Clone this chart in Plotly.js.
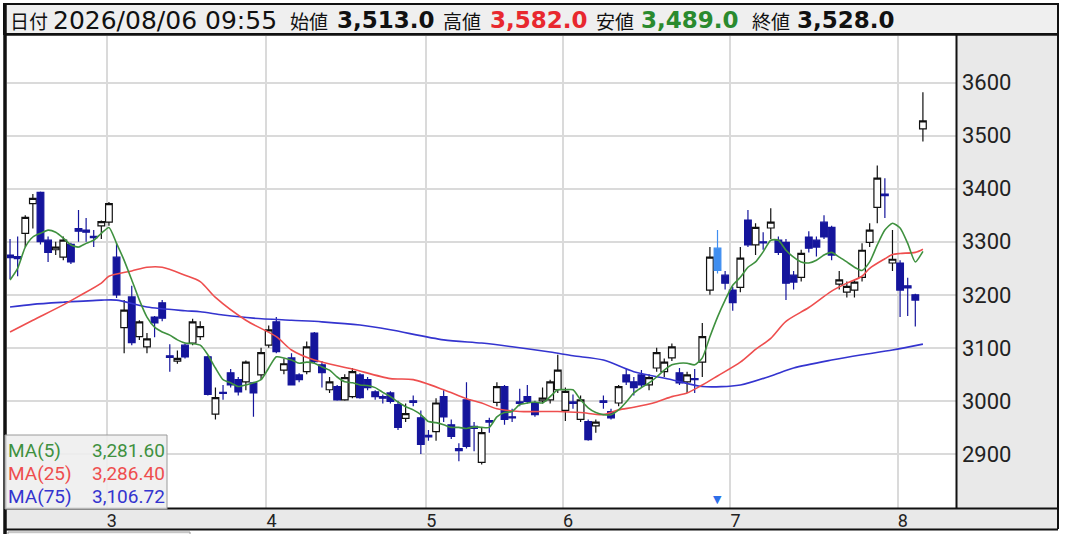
<!DOCTYPE html>
<html>
<head>
<meta charset="utf-8">
<script src="https://cdn.plot.ly/plotly-3.0.1.min.js"></script>
<style>
  html, body { margin: 0; padding: 0; background: #ffffff; }
  #chart { width: 1066px; height: 534px; }
</style>
</head>
<body>
<div id="chart"></div>
<script>
// ---------------- data ----------------
const headerDate = '2026/08/06 09:55';
const dayLabels = ['3', '4', '5', '6', '7', '8'];
const dayFirstIndex = [13, 34, 55, 73, 95, 117];
const priceTicks = [2900, 3000, 3100, 3200, 3300, 3400, 3500, 3600];
const highlightIndex = 93;

const candleOpen = [
  3275,3272,3316,3372,3393,3303,3285,3271,3295,3325,
  3322,3310,3330,3337,3271,3138,3196,3121,3102,3158,
  3185,3085,3075,3105,3109,3121,3083,2975,3016,3053,
  3040,3036,3034,3049,3105,3149,3058,3081,3049,3055,
  3128,3068,3021,3027,3002,3008,3049,3040,3017,3008,
  3015,2993,2967,3000,2968,2935,2942,3008,2955,2910,
  3002,2952,2884,2963,2997,3027,2970,2998,3008,2996,
  3000,3002,3021,2982,2998,2965,2961,2953,3000,2980,
  2996,3049,3036,3049,3030,3062,3055,3081,3053,3036,
  3042,3073,3209,3288,3237,3209,3214,3341,3294,3300,
  3326,3303,3299,3237,3233,3309,3303,3337,3327,3220,
  3205,3209,3233,3299,3365,3390,3260,3260,3217,3200,3513
];
const candleHigh = [
  3305,3310,3350,3390,3395,3310,3300,3310,3298,3360,
  3345,3322,3340,3375,3297,3190,3217,3152,3128,3160,
  3190,3107,3095,3108,3155,3150,3085,3025,3030,3060,
  3045,3076,3036,3100,3142,3158,3080,3090,3052,3112,
  3130,3075,3045,3030,3050,3062,3052,3045,3020,3012,
  3018,3000,2995,3010,2982,2945,3005,3020,2965,2920,
  3035,2960,2950,2968,3035,3030,2985,3023,3030,3000,
  3025,3040,3087,3025,3012,3010,2965,2965,3010,2985,
  3030,3060,3045,3058,3050,3100,3080,3108,3062,3055,
  3060,3147,3290,3322,3245,3215,3290,3360,3335,3318,
  3363,3310,3305,3245,3285,3320,3310,3350,3330,3245,
  3225,3228,3297,3335,3444,3420,3322,3265,3232,3202,3582
];
const candleLow = [
  3230,3235,3290,3325,3295,3262,3275,3265,3258,3300,
  3300,3290,3305,3330,3194,3090,3105,3115,3090,3120,
  3150,3055,3070,3080,3105,3115,3010,2965,3002,3025,
  3010,3020,2970,3040,3100,3090,3050,3030,3035,3050,
  3070,3025,3015,3000,3000,3005,3004,3020,3002,2995,
  2995,2945,2960,2990,2900,2925,2925,2960,2928,2886,
  2910,2905,2880,2940,2990,2955,2960,2990,2995,2970,
  2995,2995,3015,2962,2985,2960,2925,2940,2985,2965,
  2990,3030,3010,3025,3020,3055,3045,3075,3030,3015,
  3015,3045,3200,3240,3210,3170,3205,3290,3275,3285,
  3305,3275,3190,3210,3225,3280,3272,3305,3265,3210,
  3195,3195,3225,3290,3335,3345,3245,3158,3160,3140,3489
];
const candleClose = [
  3270,3268,3346,3382,3300,3280,3290,3303,3262,3320,
  3318,3308,3338,3372,3200,3171,3110,3149,3117,3147,
  3156,3082,3080,3083,3149,3140,3012,3006,3014,3030,
  3017,3073,3015,3091,3134,3093,3070,3030,3040,3102,
  3074,3053,3036,3002,3044,3055,3006,3025,3008,3005,
  2999,2950,2976,2997,2918,2932,2996,2970,2933,2906,
  2914,2948,2940,2960,3027,2965,2968,2995,2999,2974,
  3005,3036,3058,3018,2995,3002,2927,2960,2997,2968,
  3027,3036,3025,3030,3044,3091,3073,3102,3034,3049,
  3040,3121,3271,3246,3222,3185,3269,3294,3327,3298,
  3337,3280,3222,3224,3278,3288,3290,3309,3275,3228,
  3216,3224,3284,3322,3420,3387,3267,3209,3213,3190,3528
];

// moving averages
const ma5Values = [
  3228,3250,3290,3309,3316,3322,3318,3307,3294,3290,
  3297,3303,3316,3327,3297,3265,3228,3190,3158,3139,
  3130,3124,3115,3109,3108,3105,3087,3062,3040,3034,
  3027,3030,3034,3040,3062,3083,3081,3077,3071,3073,
  3071,3064,3058,3045,3036,3034,3030,3029,3025,3016,
  3008,2998,2989,2983,2974,2961,2959,2955,2950,2950,
  2948,2951,2950,2950,2970,2978,2980,2993,2996,2998,
  2996,3008,3021,3021,3021,3002,2987,2978,2974,2974,
  2983,2998,3015,3025,3034,3045,3058,3068,3071,3071,
  3068,3081,3121,3158,3190,3218,3233,3252,3262,3281,
  3303,3303,3284,3271,3262,3260,3265,3275,3280,3271,
  3262,3252,3246,3262,3294,3322,3335,3326,3297,3262,3282
];
const ma25Index = [0,3,7,9,12,13,16,18,20,23,25,27,31,35,37,40,45,50,53,57,60,62,64,67,72,75,78,80,82,85,87,89,91,93,96,98,100,102,105,108,110,112,113,115,116,117,119,120];
const ma25Values = [3130,3152,3181,3197,3222,3235,3245,3252,3252,3237,3225,3195,3152,3121,3096,3077,3060,3042,3040,3021,3004,2996,2985,2980,2980,2978,2974,2983,2988,2998,3008,3015,3030,3047,3073,3097,3118,3150,3176,3207,3222,3235,3250,3268,3276,3278,3280,3286];
const ma75Index = [0,3,7,12,14,18,23,25,28,32,37,41,46,50,57,62,66,71,74,78,82,87,91,96,100,103,108,112,116,120];
const ma75Values = [3177,3182,3186,3190,3190,3177,3170,3168,3162,3156,3152,3149,3143,3134,3115,3109,3102,3092,3085,3077,3055,3040,3027,3030,3047,3062,3077,3087,3096,3107];

const maNames = ['MA(5)', 'MA(25)', 'MA(75)'];
const maLatest = [3281.60, 3286.40, 3106.72];

// ---------------- layout helpers ----------------
const W = 1066, H = 534;
const M = { l: 7, r: 110, t: 36, b: 26 };
const PW = W - M.l - M.r, PH = H - M.t - M.b;
const px = v => (v - M.l) / PW;
const py = v => (H - M.b - v) / PH;

const fmt = (v, d) => v.toLocaleString('en-US', { minimumFractionDigits: d, maximumFractionDigits: d });

const idx = candleClose.map((_, i) => i);
const mainIdx = idx.filter(i => i !== highlightIndex);
const pick = (arr, ids) => ids.map(i => arr[i]);

const navy = '#15159c';
const maColors = ['#3f913f', '#ee4e4e', '#3434cf'];

const traces = [
  {
    type: 'candlestick',
    x: mainIdx,
    open: pick(candleOpen, mainIdx),
    high: pick(candleHigh, mainIdx),
    low: pick(candleLow, mainIdx),
    close: pick(candleClose, mainIdx),
    increasing: { line: { color: '#111111', width: 1.2 }, fillcolor: '#ffffff' },
    decreasing: { line: { color: navy, width: 1.2 }, fillcolor: navy },
    whiskerwidth: 0,
    hoverinfo: 'skip'
  },
  {
    type: 'candlestick',
    x: [highlightIndex],
    open: [candleOpen[highlightIndex]],
    high: [candleHigh[highlightIndex]],
    low: [candleLow[highlightIndex]],
    close: [candleClose[highlightIndex]],
    increasing: { line: { color: '#3f8ef0', width: 1.2 }, fillcolor: '#3f8ef0' },
    decreasing: { line: { color: '#3f8ef0', width: 1.2 }, fillcolor: '#3f8ef0' },
    whiskerwidth: 0,
    hoverinfo: 'skip'
  },
  {
    type: 'scatter', mode: 'lines', x: ma75Index, y: ma75Values,
    line: { color: maColors[2], width: 1.6, shape: 'spline', smoothing: 0.8 }, hoverinfo: 'skip'
  },
  {
    type: 'scatter', mode: 'lines', x: ma25Index, y: ma25Values,
    line: { color: maColors[1], width: 1.6, shape: 'spline', smoothing: 0.8 }, hoverinfo: 'skip'
  },
  {
    type: 'scatter', mode: 'lines', x: idx, y: ma5Values,
    line: { color: maColors[0], width: 1.6, shape: 'spline', smoothing: 0.6 }, hoverinfo: 'skip'
  }
];

// ---------------- shapes ----------------
const rect = (x0, y0, x1, y1, fill, lineColor, lw, layer) => ({
  type: 'rect', xref: 'paper', yref: 'paper',
  x0: px(x0), x1: px(x1), y0: py(y1), y1: py(y0),
  fillcolor: fill, line: { color: lineColor, width: lw }, layer: layer || 'below'
});
const hline = (x0, x1, y, color, lw) => ({
  type: 'line', xref: 'paper', yref: 'paper',
  x0: px(x0), x1: px(x1), y0: py(y), y1: py(y),
  line: { color: color, width: lw }, layer: 'above'
});
const vline = (x, y0, y1, color, lw) => ({
  type: 'line', xref: 'paper', yref: 'paper',
  x0: px(x), x1: px(x), y0: py(y0), y1: py(y1),
  line: { color: color, width: lw }, layer: 'above'
});

const shapes = [
  rect(4, 4, 1058, 34, '#efefef', '#111', 2),
  rect(956, 35, 1058, 508, '#e9e9e9', 'rgba(0,0,0,0)', 0),
  rect(5, 508, 1058, 529, '#e9e9e9', 'rgba(0,0,0,0)', 0),
  rect(8, 532, 190, 545, '#f3f3f3', '#9a9a9a', 1),
  hline(4, 1058, 4, '#111', 2),
  hline(4, 1058, 34.5, '#111', 2.5),
  hline(5, 1058, 508.5, '#111', 2),
  hline(5, 1058, 529.5, '#111', 2),
  vline(5, 4, 540, '#111', 3.5),
  vline(956.5, 35, 508, '#111', 2),
  vline(1058, 4, 529, '#111', 2),
  rect(5, 435, 167, 509, 'rgba(238,238,238,0.88)', '#9a9a9a', 1, 'above')
];

// ---------------- annotations ----------------
const last = candleClose.length - 1;
const labelFont = { family: 'Noto Sans CJK JP', size: 19, color: '#111' };
const headerParts = [
  { t: '日付', x: 9, f: labelFont },
  { t: headerDate, x: 52, f: { family: 'DejaVu Sans', size: 25, color: '#111' } },
  { t: '始値', x: 289, f: labelFont },
  { t: '<b>' + fmt(candleOpen[last], 1) + '</b>', x: 336, f: { family: 'DejaVu Sans', size: 23, color: '#111' } },
  { t: '高値', x: 442, f: labelFont },
  { t: '<b>' + fmt(candleHigh[last], 1) + '</b>', x: 489, f: { family: 'DejaVu Sans', size: 23, color: '#e8282e' } },
  { t: '安値', x: 595, f: labelFont },
  { t: '<b>' + fmt(candleLow[last], 1) + '</b>', x: 640, f: { family: 'DejaVu Sans', size: 23, color: '#2a8a2e' } },
  { t: '終値', x: 751, f: labelFont },
  { t: '<b>' + fmt(candleClose[last], 1) + '</b>', x: 796, f: { family: 'DejaVu Sans', size: 23, color: '#111' } }
];
const annotations = headerParts.map(p => ({
  xref: 'paper', yref: 'paper', x: px(p.x), y: py(20),
  xanchor: 'left', yanchor: 'middle', text: p.t, showarrow: false, font: p.f,
  borderpad: 0
}));

const rowY = [450, 473, 496];
maNames.forEach((n, i) => {
  annotations.push({
    xref: 'paper', yref: 'paper', x: px(7), y: py(rowY[i]), xanchor: 'left', yanchor: 'middle',
    text: n, showarrow: false, borderpad: 0,
    font: { family: 'Roboto', size: 19, color: maColors[i] }
  });
  annotations.push({
    xref: 'paper', yref: 'paper', x: px(166), y: py(rowY[i]), xanchor: 'right', yanchor: 'middle',
    text: fmt(maLatest[i], 2), showarrow: false, borderpad: 0,
    font: { family: 'Roboto', size: 19, color: maColors[i] }
  });
});

annotations.push({
  xref: 'x', yref: 'paper', x: highlightIndex, y: py(499), xanchor: 'center', yanchor: 'middle',
  text: '▼', showarrow: false, font: { family: 'DejaVu Sans', size: 11, color: '#2c6fe8' }
});

const layout = {
  width: W, height: H,
  margin: { l: M.l, r: M.r, t: M.t, b: M.b, pad: 0 },
  paper_bgcolor: '#ffffff', plot_bgcolor: '#ffffff',
  showlegend: false,
  boxmode: 'overlay',
  boxgap: 0.12,
  boxgroupgap: 0,
  hovermode: false,
  xaxis: {
    range: [-0.4, 124.35],
    tickvals: dayFirstIndex.map(v => v - 0.3),
    ticktext: dayLabels,
    ticks: '',
    ticklabelposition: 'outside right',
    tickfont: { family: 'Roboto', size: 18, color: '#222' },
    showgrid: true, gridcolor: '#dadada', gridwidth: 2,
    zeroline: false, showline: false,
    rangeslider: { visible: false },
    fixedrange: true
  },
  yaxis: {
    side: 'right',
    range: [2798, 3688],
    tickvals: priceTicks,
    ticktext: priceTicks.map(String),
    ticks: '',
    ticklabelstandoff: 5,
    tickfont: { family: 'Roboto', size: 22, color: '#222' },
    showgrid: true, gridcolor: '#dadada', gridwidth: 2,
    zeroline: false, showline: false,
    fixedrange: true
  },
  shapes: shapes,
  annotations: annotations
};

Plotly.newPlot('chart', traces, layout, { displayModeBar: false, staticPlot: true });
</script>
</body>
</html>
